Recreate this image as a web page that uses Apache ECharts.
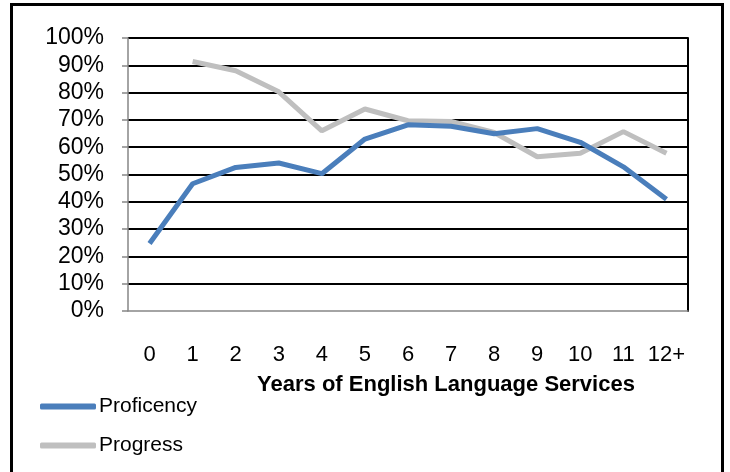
<!DOCTYPE html>
<html>
<head>
<meta charset="utf-8">
<script src="https://cdn.jsdelivr.net/npm/echarts@6/dist/echarts.min.js"></script>
<style>
  html, body { margin: 0; padding: 0; background: #fff; }
  #main { width: 730px; height: 472px; }
</style>
</head>
<body>
<div id="main"></div>
<script>
// data
var years = ['0', '1', '2', '3', '4', '5', '6', '7', '8', '9', '10', '11', '12+'];
var proficiency = [24.7, 46.6, 52.6, 54.2, 50.3, 63.0, 68.2, 67.7, 64.9, 66.8, 61.8, 52.8, 40.9];
var progress = [null, 91.4, 88.0, 80.3, 66.0, 74.0, 69.7, 69.4, 65.4, 56.5, 57.8, 65.7, 57.8];

var font = "'Liberation Sans', Arial, sans-serif";

var chart = echarts.init(document.getElementById('main'));
var option = {
  animation: false,
  backgroundColor: '#fff',
  textStyle: { fontFamily: font, color: '#000' },
  graphic: [{
    type: 'rect',
    shape: { x: 11.5, y: 4.5, width: 711, height: 480 },
    style: { fill: null, stroke: '#000', lineWidth: 3 },
    silent: true
  }],
  legend: {
    orient: 'vertical',
    left: 35,
    top: 391,
    itemGap: 18,
    itemWidth: 56,
    itemHeight: 6,
    icon: 'roundRect',
    textStyle: { fontFamily: font, fontSize: 21, color: '#000', padding: [0, 0, 0, -2] },
    data: ['Proficency', 'Progress']
  },
  grid: { left: 128, right: 42, top: 38, bottom: 161 },
  xAxis: {
    type: 'category',
    data: years,
    boundaryGap: true,
    axisLine: { lineStyle: { color: '#868686', width: 1.5 } },
    axisTick: { interval: 0, length: 6, lineStyle: { color: '#868686', width: 1.5 } },
    axisLabel: { interval: 0, margin: 33, fontSize: 22, fontFamily: font, color: '#000' },
    name: 'Years of English Language Services',
    nameLocation: 'middle',
    nameGap: 63,
    nameTextStyle: { fontFamily: font, fontSize: 22, fontWeight: 'bold', color: '#000', padding: [0, 0, 0, 76] }
  },
  yAxis: [{
    type: 'value',
    min: 0,
    max: 100,
    interval: 10,
    axisLine: { show: true, lineStyle: { color: '#868686', width: 1.5 } },
    axisTick: { show: true, length: 6, lineStyle: { color: '#868686', width: 1.5 } },
    axisLabel: { margin: 24, fontSize: 23, fontFamily: font, color: '#000', formatter: '{value}%' },
    splitLine: { showMinLine: false, lineStyle: { color: '#000', width: 2 } }
  }, {
    type: 'value',
    position: 'right',
    min: 0,
    max: 100,
    interval: 10,
    axisLine: { show: true, lineStyle: { color: '#000', width: 2 } },
    axisTick: { show: false },
    axisLabel: { show: false },
    splitLine: { show: false }
  }],
  series: [{
    name: 'Proficency',
    type: 'line',
    data: proficiency,
    symbol: 'none',
    color: '#4a7ebb',
    lineStyle: { width: 5, color: '#4a7ebb' },
    z: 3
  }, {
    name: 'Progress',
    type: 'line',
    data: progress,
    symbol: 'none',
    color: '#bfbfbf',
    lineStyle: { width: 5, color: '#bfbfbf' },
    z: 2
  }]
};
chart.setOption(option);
</script>
</body>
</html>
